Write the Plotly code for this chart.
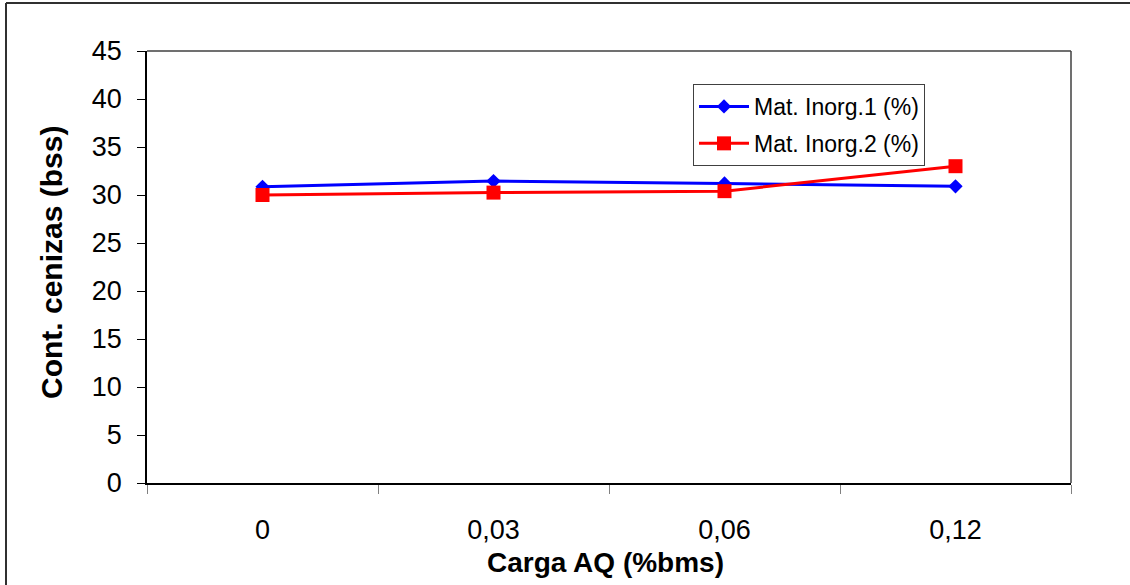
import plotly.graph_objects as go

categories = ["0", "0,03", "0,06", "0,12"]
inorg1 = [30.85, 31.45, 31.2, 30.9]
inorg2 = [30.0, 30.25, 30.4, 33.0]
series_names = ["Mat. Inorg.1 (%)", "Mat. Inorg.2 (%)"]
y_ticks = [0, 5, 10, 15, 20, 25, 30, 35, 40, 45]

W, H = 1130, 585
L, R, T, B = 147, 59, 51, 102
pw, ph = W - L - R, H - T - B

def px_to_paper_x(px):
    return (px - L) / pw

def px_to_paper_y(py):
    return (H - B - py) / ph

FONT = "Liberation Sans, Arial, sans-serif"

fig = go.Figure()
fig.add_trace(go.Scatter(
    x=categories, y=inorg1, name=series_names[0], mode="lines+markers",
    line=dict(color="#0000FF", width=3),
    marker=dict(symbol="diamond", size=11, color="#0000FF"),
    legendgroup="a",
))
fig.add_trace(go.Scatter(
    x=categories, y=inorg2, name=series_names[1], mode="lines+markers",
    line=dict(color="#FF0000", width=3),
    marker=dict(symbol="square", size=14, color="#FF0000"),
    legendgroup="b",
))

fig.update_layout(
    width=W, height=H,
    margin=dict(l=L, r=R, t=T, b=B, pad=0),
    paper_bgcolor="white", plot_bgcolor="white",
    font=dict(family=FONT, color="black"),
    showlegend=True,
    legend=dict(
        x=px_to_paper_x(693), y=px_to_paper_y(84), xanchor="left", yanchor="top",
        bgcolor="white", bordercolor="#404040", borderwidth=1,
        font=dict(family=FONT, size=23, color="black"),
        traceorder="grouped", tracegroupgap=4, itemwidth=50,
    ),
    xaxis=dict(
        type="category", range=[-0.5, 3.5],
        showline=True, linecolor="black", linewidth=1.5,
        ticks="outside", tickson="boundaries", ticklen=9, tickcolor="#808080", tickwidth=1,
        tickfont=dict(family=FONT, size=27, color="black"),
        ticklabelstandoff=22,
        showgrid=False, zeroline=False,
    ),
    yaxis=dict(
        range=[0, 45], tickvals=y_ticks, ticktext=[str(v) for v in y_ticks],
        showline=True, linecolor="black", linewidth=1.5,
        ticks="outside", ticklen=8, tickcolor="black", tickwidth=1,
        tickfont=dict(family=FONT, size=27, color="black"),
        ticklabelstandoff=10,
        showgrid=False, zeroline=False,
    ),
)

# plot area border (top/right)
fig.add_shape(type="line", xref="paper", yref="paper", x0=0, y0=1, x1=1, y1=1,
              line=dict(color="#404040", width=1.5))
fig.add_shape(type="line", xref="paper", yref="paper", x0=1, y0=0, x1=1, y1=1,
              line=dict(color="#404040", width=1.5))

# outer chart border (left and top edges visible)
fig.add_shape(type="line", xref="paper", yref="paper",
              x0=px_to_paper_x(6), y0=px_to_paper_y(3), x1=px_to_paper_x(1140), y1=px_to_paper_y(3),
              line=dict(color="#303030", width=2))
fig.add_shape(type="line", xref="paper", yref="paper",
              x0=px_to_paper_x(6), y0=px_to_paper_y(3), x1=px_to_paper_x(6), y1=px_to_paper_y(600),
              line=dict(color="#303030", width=2))

# axis titles
fig.add_annotation(text="<b>Carga AQ (%bms)</b>", xref="paper", yref="paper",
                   x=px_to_paper_x(605), y=px_to_paper_y(562), xanchor="center", yanchor="middle",
                   showarrow=False, font=dict(family=FONT, size=28, color="black"))
fig.add_annotation(text="<b>Cont. cenizas (bss)</b>", xref="paper", yref="paper",
                   x=px_to_paper_x(51), y=px_to_paper_y(263), xanchor="center", yanchor="middle",
                   textangle=-90, showarrow=False, font=dict(family=FONT, size=30, color="black"))

fig.write_html("out.html")
